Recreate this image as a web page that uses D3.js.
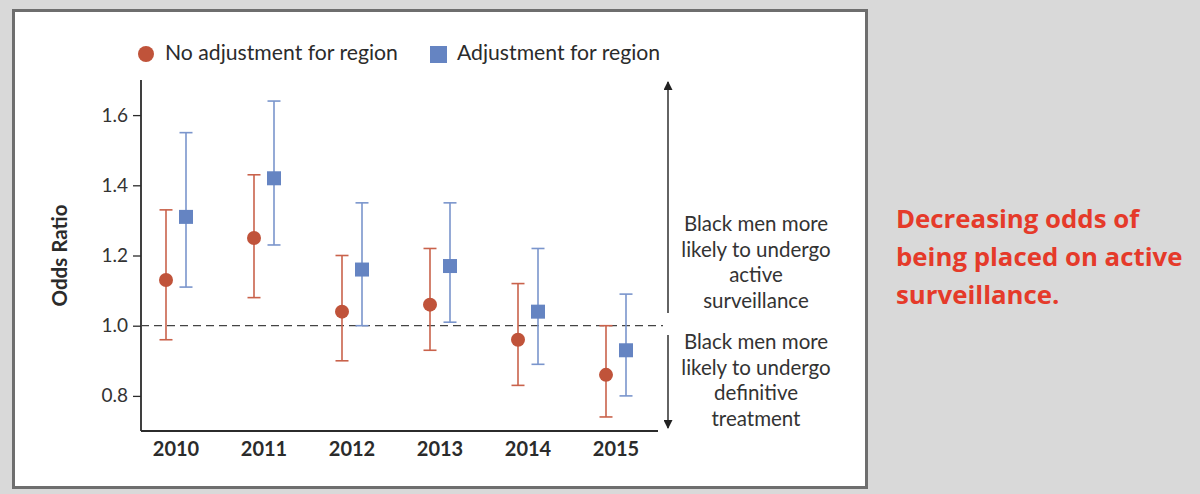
<!DOCTYPE html>
<html><head><meta charset="utf-8">
<script src="https://cdn.jsdelivr.net/npm/d3@7"></script>
<style>
html,body{margin:0;padding:0;background:#d9d9d9;}
svg{display:block;}
</style></head>
<body>
<svg id="chart" width="1200" height="494"></svg>
<script>
const years = ["2010","2011","2012","2013","2014","2015"];
const noAdjOR = [1.13, 1.25, 1.04, 1.06, 0.96, 0.86];
const noAdjLo = [0.96, 1.08, 0.90, 0.93, 0.83, 0.74];
const noAdjHi = [1.33, 1.43, 1.20, 1.22, 1.12, 1.00];
const adjOR = [1.31, 1.42, 1.16, 1.17, 1.04, 0.93];
const adjLo = [1.11, 1.23, 1.00, 1.01, 0.89, 0.80];
const adjHi = [1.55, 1.64, 1.35, 1.35, 1.22, 1.09];
const yTicks = [0.8, 1.0, 1.2, 1.4, 1.6];
const legendLabels = ["No adjustment for region", "Adjustment for region"];
const upperNote = ["Black men more", "likely to undergo", "active", "surveillance"];
const lowerNote = ["Black men more", "likely to undergo", "definitive", "treatment"];
const sideNote = ["Decreasing odds of", "being placed on active", "surveillance."];

const RED = "#c0533a", RED_LINE = "#c9624b", BLUE = "#6584c2", BLUE_LINE = "#7a95cc";
const TXT = "#2b2b2b";
const FONT = "Lato, 'Open Sans', sans-serif";

const svg = d3.select("#chart");
svg.append("rect").attr("x", 13.5).attr("y", 10.5).attr("width", 853).attr("height", 477)
  .attr("fill", "#fff").attr("stroke", "#6e6e6e").attr("stroke-width", 3);

const x = d3.scaleBand().domain(years).range([132, 660]);
const y = d3.scaleLinear().domain([0.7, 1.7]).range([431, 80]);
const off = 10;

const yAxis = d3.axisLeft(y).tickValues(yTicks).tickFormat(d3.format(".1f")).tickSize(8).tickPadding(5);
const gy = svg.append("g").attr("transform", "translate(141,0)").call(yAxis);
gy.select(".domain").remove();
gy.selectAll(".tick line").attr("stroke", TXT).attr("stroke-width", 1.3);
gy.selectAll(".tick text").attr("font-family", FONT).attr("font-size", 19).attr("fill", "#333");
svg.append("line").attr("x1", 141).attr("x2", 141).attr("y1", y(1.7)).attr("y2", y(0.7))
  .attr("stroke", TXT).attr("stroke-width", 1.8);
const xAxis = d3.axisBottom(x).tickSize(0).tickPadding(11);
const gx = svg.append("g").attr("transform", "translate(0,431)").call(xAxis);
gx.select(".domain").remove();
gx.selectAll(".tick text").attr("font-family", FONT).attr("font-weight", "bold").attr("font-size", 20).attr("fill", TXT);
svg.append("line").attr("x1", 141).attr("x2", 658).attr("y1", 431).attr("y2", 431)
  .attr("stroke", TXT).attr("stroke-width", 1.8);

svg.append("line").attr("x1", 141).attr("x2", 663).attr("y1", y(1.0)).attr("y2", y(1.0))
  .attr("stroke", "#444").attr("stroke-width", 1.3).attr("stroke-dasharray", "8,5");

svg.append("text").attr("transform", "translate(67," + y(1.2) + ") rotate(-90)")
  .attr("text-anchor", "middle").attr("font-family", FONT).attr("font-weight", "bold")
  .attr("font-size", 20.5).attr("fill", TXT).text("Odds Ratio");

function errorBars(lo, hi, dx, color) {
  const g = svg.append("g").attr("stroke", color).attr("stroke-width", 1.6);
  years.forEach((yr, i) => {
    const cx = x(yr) + x.bandwidth() / 2 + dx;
    g.append("line").attr("x1", cx).attr("x2", cx).attr("y1", y(lo[i])).attr("y2", y(hi[i]));
    g.append("line").attr("x1", cx - 6.5).attr("x2", cx + 6.5).attr("y1", y(lo[i])).attr("y2", y(lo[i]));
    g.append("line").attr("x1", cx - 6.5).attr("x2", cx + 6.5).attr("y1", y(hi[i])).attr("y2", y(hi[i]));
  });
}
errorBars(noAdjLo, noAdjHi, -off, RED_LINE);
errorBars(adjLo, adjHi, off, BLUE_LINE);

svg.append("g").selectAll("circle").data(years).join("circle")
  .attr("cx", d => x(d) + x.bandwidth() / 2 - off)
  .attr("cy", (d, i) => y(noAdjOR[i])).attr("r", 7).attr("fill", RED);
svg.append("g").selectAll("rect").data(years).join("rect")
  .attr("x", d => x(d) + x.bandwidth() / 2 + off - 7)
  .attr("y", (d, i) => y(adjOR[i]) - 7).attr("width", 14).attr("height", 14).attr("fill", BLUE);

svg.append("circle").attr("cx", 146).attr("cy", 54).attr("r", 8).attr("fill", RED);
svg.append("text").attr("x", 165).attr("y", 60).attr("font-family", FONT).attr("font-size", 21.2)
  .attr("fill", TXT).text(legendLabels[0]);
svg.append("rect").attr("x", 430).attr("y", 46).attr("width", 17).attr("height", 17).attr("fill", BLUE);
svg.append("text").attr("x", 457).attr("y", 60).attr("font-family", FONT).attr("font-size", 21.2)
  .attr("fill", TXT).text(legendLabels[1]);

const ax = 668;
svg.append("defs").append("marker").attr("id", "ah").attr("viewBox", "0 0 10 10")
  .attr("refX", 9).attr("refY", 5).attr("markerWidth", 15).attr("markerHeight", 9)
  .attr("markerUnits", "userSpaceOnUse").attr("orient", "auto")
  .append("path").attr("d", "M0,0 L10,5 L0,10 Z").attr("fill", "#222");
svg.append("line").attr("x1", ax).attr("x2", ax).attr("y1", 313).attr("y2", 82)
  .attr("stroke", "#222").attr("stroke-width", 1.4).attr("marker-end", "url(#ah)");
svg.append("line").attr("x1", ax).attr("x2", ax).attr("y1", 335).attr("y2", 428)
  .attr("stroke", "#222").attr("stroke-width", 1.4).attr("marker-end", "url(#ah)");

function note(lines, y0) {
  svg.append("g").selectAll("text").data(lines).join("text")
    .attr("x", 756).attr("y", (d, i) => y0 + i * 25.5).attr("text-anchor", "middle")
    .attr("font-family", FONT).attr("font-size", 20.5).attr("fill", "#333").text(d => d);
}
note(upperNote, 231);
note(lowerNote, 349);

svg.append("g").selectAll("text").data(sideNote).join("text")
  .attr("x", 896).attr("y", (d, i) => 228 + i * 38).attr("font-family", "'Open Sans', sans-serif")
  .attr("font-weight", "bold").attr("font-size", 25.8).attr("fill", "#e53a2a").text(d => d);
</script>
</body></html>
